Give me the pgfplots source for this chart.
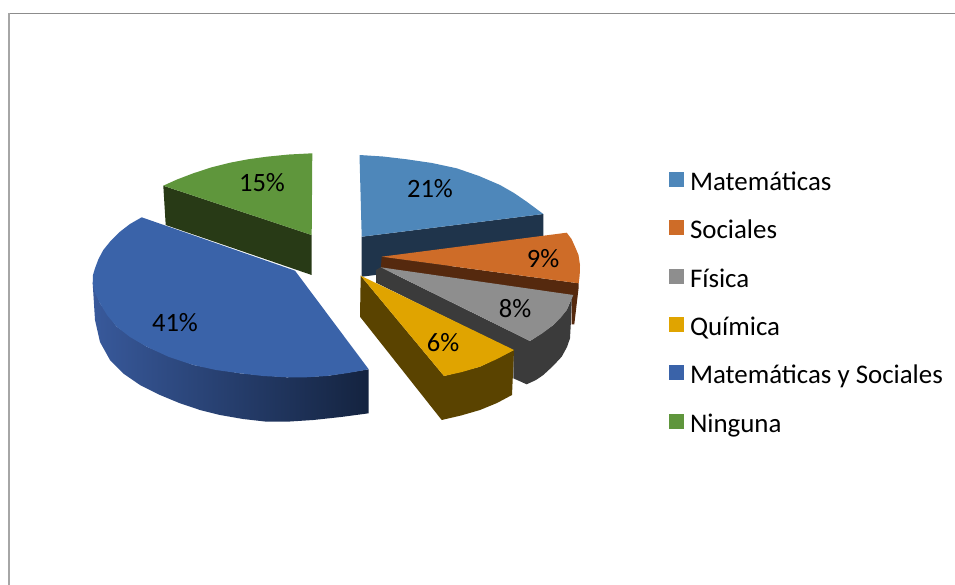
\documentclass[border=0pt]{standalone}
\usepackage{pgfplots}
\pgfplotsset{compat=1.18}
\usepackage{fontspec}
\setmainfont{Carlito}
\definecolor{cA}{HTML}{4E87BA}\definecolor{cAs}{HTML}{1F344B}
\definecolor{cB}{HTML}{CE6C28}\definecolor{cBs}{HTML}{55290E}
\definecolor{cC}{HTML}{8E8E8E}\definecolor{cCs}{HTML}{3B3B3B}
\definecolor{cD}{HTML}{E0A400}\definecolor{cDs}{HTML}{5A4300}
\definecolor{cE}{HTML}{3A63A9}\definecolor{cEl}{HTML}{38599B}\definecolor{cEr}{HTML}{14233F}
\definecolor{cF}{HTML}{5F963C}\definecolor{cFs}{HTML}{283A16}
\begin{document}
\begin{tikzpicture}
\useasboundingbox (0,0) rectangle (955bp,585bp);
\begin{axis}[at={(0,0)},anchor=south west,scale only axis,width=955bp,height=585bp,
  xmin=0,xmax=955,ymin=0,ymax=585,y dir=reverse,hide axis,clip=false,
  legend image code/.code={\fill[#1] (0bp,-1.5bp) rectangle (15bp,13.5bp);\path (21bp,0bp);},
  legend cell align=left,
  legend style={draw=none,fill=none,at={(axis cs:669,172)},anchor=north west,inner sep=0pt,outer sep=0pt,
    row sep=21.8bp,
    nodes={font=\fontsize{26.9bp}{30bp}\selectfont,text height=18bp,text depth=8bp,inner sep=0pt,outer sep=0pt}},
]
% frame
\addplot[forget plot,color=black!45,line width=1bp] coordinates {(8,13.5)(955,13.5)};
\addplot[forget plot,color=black!35,line width=2bp] coordinates {(9,13)(9,585)};
% Matematicas
\addplot[forget plot,fill=cAs,draw=none] coordinates {(361.7,236.7)(543.3,214)(543.3,254)(361.7,276.7)} --cycle;
\addplot[fill=cA,draw=none] coordinates {(361.7,236.7)(359.5,155)(383,156.5)(406.7,159.3)(432,163)(456.7,168.3)(479,176)(500,185)(514,193)(526.7,201.7)(543.3,214)} --cycle;
% Sociales
\addplot[forget plot,fill=cBs,draw=none] coordinates {(381.7,256.7)(578.7,283.3)(578.7,287)(574.3,324.3)(571.7,324.3)(571.7,297)(380.7,270)} --cycle;
\addplot[fill=cB,draw=none] coordinates {(381.7,256.7)(566.7,232.7)(571.5,239)(575,246.7)(578.5,255)(580,265)(579.7,275)(578.7,283.3)} --cycle;
% Fisica
\addplot[forget plot,fill=cCs,draw=none] coordinates {(380.7,267.3)(376,270)(376,282.7)(513.3,350.7)(513.3,378.3)(526.7,384.3)(536,380)(543.3,375)(553,366)(561.7,356.7)(567,347)(570,338.3)(571,320)(571.7,300)(573.3,295)(566.7,310)(553.3,325)(542,333)(530,341)} --cycle;
\addplot[fill=cC,draw=none] coordinates {(380.7,267.3)(573.3,295)(566.7,310)(560.5,318)(553.3,325)(542,333.5)(530,341)} --cycle;
% Quimica
\addplot[forget plot,fill=cDs,draw=none] coordinates {(360.7,275.7)(444,376)(480,366.7)(514,350)(512,395)(497,403)(480,410)(461,415.5)(441.7,420)(360,316.7)} --cycle;
\addplot[fill=cD,draw=none] coordinates {(360.7,275.7)(514,350)(497,359)(480,366.7)(462,372)(444,376)} --cycle;
% Matematicas y Sociales
\addplot[forget plot,left color=cEl,right color=cEr,draw=none] coordinates {(92.7,283.3)(95,320)(100,342)(110,360)(124,374)(140,385)(160,395)(180,403.3)(200,410)(220,415)(243,419)(266.7,421.7)(290,421.5)(313.3,420)(341,417)(368.7,413.3)(368.7,369.3)(326.7,376)(286.7,377.3)(240,373.3)(193.3,365)(146.7,346.7)(116.7,326.7)(100,303.3)} --cycle;
\addplot[fill=cE,draw=none] coordinates {(295,270.7)(368.7,369.3)(348,373)(326.7,376)(306,377.3)(286.7,377.3)(263,376)(240,373.3)(216,370)(193.3,365)(169,357)(146.7,346.7)(130,337)(116.7,326.7)(107,315)(100,303.3)(95,293)(92.7,283.3)(93,275)(95,268.3)(98.5,259)(103.3,250)(111,240.5)(120,231.7)(130,224)(141.7,217.3)} --cycle;
% Ninguna
\addplot[forget plot,fill=cFs,draw=none] coordinates {(163.3,185.7)(311.7,235)(311.7,275)(165.7,225)} --cycle;
\addplot[fill=cF,draw=none] coordinates {(311.7,235)(312.3,153.3)(289,154.5)(266.7,156.7)(248,159.3)(230,162.7)(211,167.5)(193.3,173.3)(177,179.5)(163.3,185.7)} --cycle;
\legend{Matemáticas,Sociales,Física,Química,Matemáticas y Sociales,Ninguna}
% percentage labels
\begin{scope}[every node/.style={font=\fontsize{26.5bp}{30bp}\selectfont,inner sep=0pt,text=black}]
\node at (axis cs:430,189) {21\%};
\node at (axis cs:543,259) {9\%};
\node at (axis cs:515,309) {8\%};
\node at (axis cs:443,343) {6\%};
\node at (axis cs:175,323) {41\%};
\node at (axis cs:262,183) {15\%};
\end{scope}
\end{axis}
\end{tikzpicture}
\end{document}
